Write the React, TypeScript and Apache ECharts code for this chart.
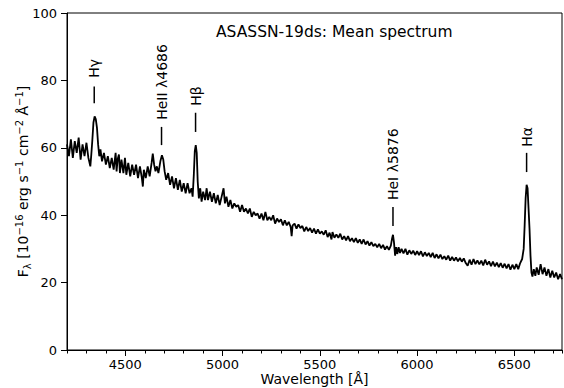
import React, { useEffect, useRef } from "react";
import * as echarts from "echarts";

const wavelength: number[] = [
  4200, 4210, 4220, 4230, 4240, 4250, 4260, 4270, 4280, 4290, 4300, 4310, 4320, 4325, 4330, 4336, 4342, 4348, 4354, 4360,
  4366, 4372, 4380, 4390, 4400, 4410, 4420, 4430, 4440, 4450, 4455, 4460, 4467, 4472, 4480, 4490, 4498, 4505, 4515, 4525,
  4535, 4545, 4555, 4565, 4575, 4585, 4590, 4595, 4605, 4615, 4625, 4635, 4641, 4648, 4655, 4662, 4670, 4680, 4688, 4695,
  4702, 4710, 4720, 4730, 4740, 4750, 4760, 4770, 4780, 4790, 4800, 4810, 4820, 4830, 4840, 4846, 4852, 4857, 4862, 4867,
  4872, 4878, 4885, 4892, 4900, 4910, 4918, 4925, 4935, 4945, 4955, 4965, 4975, 4985, 4995, 5005, 5012, 5020, 5030, 5040,
  5050, 5060, 5070, 5080, 5090, 5100, 5110, 5120, 5130, 5140, 5150, 5160, 5170, 5180, 5190, 5200, 5210, 5220, 5230, 5240,
  5250, 5260, 5270, 5280, 5290, 5300, 5310, 5320, 5330, 5340, 5350, 5355, 5360, 5370, 5380, 5390, 5400, 5410, 5420, 5430,
  5440, 5450, 5460, 5470, 5480, 5490, 5500, 5510, 5520, 5530, 5540, 5550, 5560, 5565, 5575, 5585, 5595, 5605, 5615, 5625,
  5635, 5645, 5655, 5665, 5675, 5685, 5695, 5705, 5715, 5725, 5735, 5745, 5755, 5765, 5775, 5785, 5795, 5805, 5815, 5825,
  5835, 5845, 5855, 5865, 5871, 5876, 5881, 5887, 5892, 5898, 5905, 5912, 5920, 5930, 5940, 5950, 5960, 5970, 5980, 5990,
  6000, 6010, 6020, 6030, 6040, 6050, 6060, 6070, 6080, 6090, 6100, 6110, 6120, 6130, 6140, 6150, 6160, 6170, 6180, 6190,
  6200, 6210, 6220, 6230, 6240, 6250, 6260, 6270, 6280, 6290, 6300, 6310, 6320, 6330, 6340, 6350, 6360, 6370, 6380, 6390,
  6400, 6410, 6420, 6430, 6440, 6450, 6460, 6470, 6480, 6490, 6500, 6510, 6520, 6530, 6540, 6548, 6553, 6558, 6563, 6568,
  6573, 6578, 6583, 6588, 6593, 6600, 6608, 6615, 6625, 6635, 6645, 6655, 6665, 6675, 6685, 6695, 6705, 6715, 6725, 6735,
  6745,
];

const flux: number[] = [
  61.0, 57.5, 62.5, 57.0, 62.0, 58.5, 63.0, 56.5, 61.0, 57.5, 61.5, 57.0, 54.5, 58.0, 62.0, 67.5, 69.3, 68.5, 66.0, 61.0,
  57.5, 59.5, 56.0, 58.5, 55.0, 57.5, 54.0, 57.0, 53.5, 58.5, 53.0, 56.5, 58.0, 52.5, 56.5, 52.5, 57.0, 52.0, 55.5, 51.5,
  55.0, 52.0, 55.0, 51.0, 54.5, 51.0, 48.5, 53.5, 51.0, 54.5, 51.5, 55.5, 58.3, 55.0, 53.0, 54.5, 52.5, 56.0, 57.8, 56.5,
  53.0, 50.5, 52.5, 49.0, 51.5, 48.0, 51.0, 47.5, 50.5, 47.0, 49.5, 46.5, 49.5, 46.5, 48.0, 45.5, 52.0, 59.0, 60.8, 58.5,
  50.0, 45.0, 48.0, 44.0, 47.0, 44.5, 48.0, 44.5, 47.0, 44.0, 46.5, 43.5, 46.0, 43.0, 45.5, 48.0, 43.5, 45.5, 42.5, 44.5,
  42.0, 43.5, 42.5, 43.0, 41.0, 43.0, 41.0, 42.0, 40.5, 42.0, 39.5, 41.0, 40.0, 40.5, 39.0, 40.5, 38.5, 41.0, 38.5, 39.5,
  38.5, 40.0, 37.5, 39.0, 38.0, 38.8, 37.0, 38.5, 37.0, 38.0, 36.5, 33.8, 37.0, 37.5, 36.0, 37.3, 36.2, 36.8, 35.2, 36.5,
  35.3, 36.2, 34.8, 36.0, 34.5, 35.8, 34.5, 35.2, 34.2, 35.5, 33.5, 34.8, 32.8, 35.0, 33.3, 34.3, 33.3, 34.5, 32.8, 33.8,
  32.5, 33.8, 32.3, 33.2, 32.0, 33.2, 31.8, 32.8, 31.5, 32.8, 31.3, 32.3, 31.0, 32.0, 30.8, 31.5, 30.5, 31.5, 30.2, 31.2,
  29.8, 30.8, 29.7, 31.0, 33.0, 34.2, 32.0, 28.0, 30.5, 28.5, 30.5, 28.8, 30.0, 28.7, 30.0, 28.3, 29.6, 28.5, 29.5, 28.2,
  29.3, 28.2, 29.3, 27.8, 29.0, 27.9, 28.8, 27.6, 28.8, 27.3, 28.4, 27.2, 28.3, 27.0, 27.8, 26.8, 28.0, 26.5, 27.6, 26.5,
  27.5, 26.3, 27.3, 26.2, 27.2, 25.8, 25.0, 26.8, 25.3, 27.0, 25.5, 26.6, 25.4, 26.5, 25.1, 26.8, 25.3, 26.3, 24.9, 26.2,
  24.8, 25.9, 24.6, 25.8, 24.4, 25.6, 24.2, 25.5, 23.8, 25.3, 24.0, 25.5, 24.0, 25.8, 27.0, 30.0, 37.0, 45.0, 49.0, 48.0,
  42.0, 36.0, 28.0, 23.0, 21.8, 24.0, 22.0, 24.5, 22.3, 25.5, 22.5, 24.5, 22.0, 24.0, 21.5, 23.5, 21.5, 23.0, 21.0, 22.5,
  21.0,
];

const lineLabels: string[] = ["Hγ", "HeII λ4686", "Hβ", "HeI λ5876", "Hα"];
const lineWavelengths: number[] = [4340, 4686, 4861, 5876, 6563];
const markerBottom: number[] = [73.2, 60.8, 64.7, 36.8, 52.8];
const markerTop: number[] = [78.2, 66.2, 70.4, 42.4, 58.5];
const labelStart: number[] = [80.8, 68.3, 72.5, 44.5, 60.3];

const xMajorTicks: number[] = [4500, 5000, 5500, 6000, 6500];
const yTicks: number[] = [0, 20, 40, 60, 80, 100];
const titleText = "ASASSN-19ds: Mean spectrum";

const FONT = "DejaVu Sans";

export default function App() {
  const ref = useRef<HTMLDivElement>(null);
  useEffect(() => {
    if (!ref.current) return;
    const chart = echarts.init(ref.current, undefined, { renderer: "svg" });
    const spectrum = wavelength.map((w, i) => [w, flux[i]]);
    const annot = lineWavelengths.map((w, i) => [w, markerBottom[i], markerTop[i], labelStart[i]]);
    chart.setOption({
      animation: false,
      backgroundColor: "#fff",
      textStyle: { fontFamily: FONT },
      grid: {
        left: 67,
        right: 2,
        top: 13,
        bottom: 38,
        containLabel: false,
        outerBoundsMode: "none",
        show: true,
        borderColor: "#000",
        borderWidth: 1,
        backgroundColor: "transparent",
      },
      graphic: [
        {
          type: "text",
          left: 216,
          top: 24,
          style: { text: titleText, font: `15.5px '${FONT}'`, fill: "#000" },
        },
      ],
      xAxis: [
        {
          type: "value",
          min: 4200,
          max: 6745,
          interval: 100,
          position: "bottom",
          axisLine: { show: true, lineStyle: { color: "#000", width: 1 } },
          axisTick: { show: true, length: 3.5, lineStyle: { color: "#000", width: 1 } },
          axisLabel: { show: false },
          splitLine: { show: false },
        },
        {
          type: "value",
          min: 4200,
          max: 6745,
          position: "bottom",
          name: "Wavelength [Å]",
          nameLocation: "middle",
          nameGap: 22,
          nameMoveOverlap: false,
          nameTextStyle: { fontSize: 14, color: "#000", fontFamily: FONT },
          axisLine: { show: false },
          axisTick: { show: true, customValues: xMajorTicks, length: 6, lineStyle: { color: "#000", width: 1 } },
          axisLabel: {
            show: true,
            customValues: xMajorTicks,
            fontSize: 13,
            color: "#000",
            margin: 8,
            fontFamily: FONT,
            formatter: (v: number) => String(v),
          },
          splitLine: { show: false },
        },
      ],
      yAxis: {
        type: "value",
        min: 0,
        max: 100,
        interval: 20,
        name:
          "{a|F}{sub|λ}{a| [10}{sup|−16}{a| erg s}{sup|−1}{a| cm}{sup|−2}{a| Å}{sup|−1}{a|]}",
        nameLocation: "middle",
        nameRotate: 90,
        nameGap: 35,
        nameMoveOverlap: false,
        nameTextStyle: {
          color: "#000",
          fontFamily: FONT,
          rich: {
            a: { fontSize: 14, lineHeight: 18, fontFamily: FONT, color: "#000", verticalAlign: "middle" },
            sup: { fontSize: 10, lineHeight: 10, fontFamily: FONT, color: "#000", verticalAlign: "top" },
            sub: { fontSize: 10, lineHeight: 10, fontFamily: FONT, color: "#000", verticalAlign: "bottom" },
          },
        },
        axisLine: { show: true, lineStyle: { color: "#000", width: 1 } },
        axisTick: { show: true, length: 6, lineStyle: { color: "#000" } },
        axisLabel: { fontSize: 13, color: "#000", margin: 10, fontFamily: FONT, customValues: yTicks },
        splitLine: { show: false },
      },
      series: [
        {
          type: "line",
          data: spectrum,
          xAxisIndex: 0,
          showSymbol: false,
          symbol: "none",
          lineStyle: { color: "#000", width: 1.8 },
          clip: true,
        },
        {
          type: "custom",
          xAxisIndex: 0,
          data: annot,
          renderItem: (params: any, api: any) => {
            const x = api.value(0);
            const p0 = api.coord([x, api.value(1)]);
            const p1 = api.coord([x, api.value(2)]);
            const pt = api.coord([x, api.value(3)]);
            return {
              type: "group",
              children: [
                {
                  type: "line",
                  shape: { x1: p0[0], y1: p0[1], x2: p1[0], y2: p1[1] },
                  style: { stroke: "#000", lineWidth: 1.5 },
                },
                {
                  type: "text",
                  x: pt[0],
                  y: pt[1],
                  rotation: Math.PI / 2,
                  style: {
                    text: lineLabels[params.dataIndex],
                    font: `14px '${FONT}'`,
                    fill: "#000",
                    align: "left",
                    verticalAlign: "middle",
                  },
                },
              ],
            };
          },
        },
      ],
    });
    return () => chart.dispose();
  }, []);
  return (
    <div
      ref={ref}
      style={{ position: "absolute", left: 0, top: 0, width: 564, height: 388 }}
    />
  );
}
